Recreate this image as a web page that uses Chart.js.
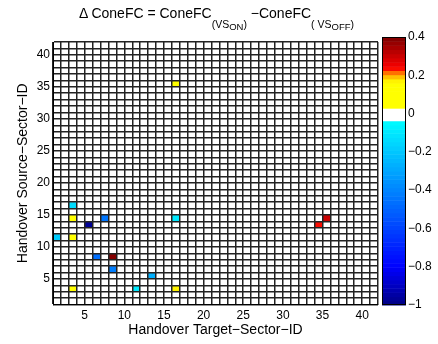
<!DOCTYPE html>
<html>
<head>
<meta charset="utf-8">
<script src="https://cdn.jsdelivr.net/npm/chart.js@4/dist/chart.umd.min.js"></script>
<style>
  body { margin: 0; background: #fff; }
  #wrap { position: relative; width: 438px; height: 344px; font-family: "Liberation Sans", Arial, sans-serif; }
  canvas { position: absolute; top: 0; }
  #title { position: absolute; left: 0; width: 433px; top: 4.5px; text-align: center; font-size: 14px; line-height: 16px; white-space: nowrap; color: #000; }
  .s1 { font-size: 10.5px; position: relative; top: 10px; }
  .s2 { font-size: 9.5px; position: relative; top: 2.5px; }
</style>
</head>
<body>
<div id="wrap">
  <canvas id="heat" width="438" height="344" style="left:0"></canvas>
  <canvas id="bar" width="68" height="344" style="left:370px"></canvas>
  <div id="title">&Delta; ConeFC = ConeFC<span class="s1">(VS<span class="s2">ON</span>)</span> &minus;ConeFC<span class="s1">( VS<span class="s2">OFF</span>)</span></div>
</div>
<script>
// sector ids run 1..42, each cell sits between id and id+1
const sectorMin = 1;
const sectorMax = 42;

// non-zero cells: target sector (x), source sector (y), delta value
const cellX = [3, 3, 7, 16, 5, 1, 3, 6, 8, 8, 13, 3, 11, 16, 16, 35, 34];
const cellY = [16, 14, 14, 14, 13, 11, 11, 8, 8, 6, 5, 3, 3, 3, 35, 14, 13];
const cellValue = [-0.14, 0.1, -0.44, -0.1, -0.97, -0.17, 0.1, -0.47, 0.39, -0.41, -0.26, 0.1, -0.1, 0.18, 0.1, 0.3, 0.23];

const axisTicks = [5, 10, 15, 20, 25, 30, 35, 40];
const colorTicks = [-1, -0.8, -0.6, -0.4, -0.2, 0, 0.2, 0.4];
const colorMin = -1;
const colorMax = 0.4;

const FONT = '"Liberation Sans", Arial, sans-serif';

// jet-like map with the green part replaced by white around zero
const stops = [
  [-1.0, [0, 0, 130]],
  [-0.8, [0, 0, 255]],
  [-0.03, [0, 255, 255]],
  [-0.0299, [255, 255, 255]],
  [0.034, [255, 255, 255]],
  [0.0341, [255, 255, 0]],
  [0.165, [255, 255, 0]],
  [0.19, [255, 200, 0]],
  [0.21, [255, 140, 0]],
  [0.225, [255, 40, 0]],
  [0.24, [250, 0, 0]],
  [0.4, [125, 0, 0]]
];
const LEVELS = 64;

function rawColor(v) {
  if (v <= stops[0][0]) return stops[0][1];
  for (let i = 1; i < stops.length; i++) {
    if (v <= stops[i][0]) {
      const [a, ca] = stops[i - 1], [b, cb] = stops[i];
      const t = (v - a) / (b - a);
      return ca.map((c, k) => Math.round(c + (cb[k] - c) * t));
    }
  }
  return stops[stops.length - 1][1];
}

function levelOf(v) {
  let i = Math.floor((v - colorMin) / (colorMax - colorMin) * LEVELS);
  return Math.max(0, Math.min(LEVELS - 1, i));
}

function levelColor(i) {
  const c = rawColor(colorMin + (i + 0.5) * (colorMax - colorMin) / LEVELS);
  return `rgb(${c[0]},${c[1]},${c[2]})`;
}

function colorFor(v) { return levelColor(levelOf(v)); }

// fill the cells before the grid is drawn so the grid lines stay on top
const cellPlugin = {
  id: 'cells',
  beforeDraw(chart) {
    const { ctx, scales: { x, y } } = chart;
    ctx.save();
    chart.data.datasets[0].data.forEach(p => {
      const x0 = x.getPixelForValue(p.x), x1 = x.getPixelForValue(p.x + 1);
      const y0 = y.getPixelForValue(p.y + 1), y1 = y.getPixelForValue(p.y);
      ctx.fillStyle = colorFor(p.v);
      ctx.fillRect(x0, y0, x1 - x0, y1 - y0);
    });
    ctx.restore();
  }
};

const tickLabel = v => axisTicks.includes(v) ? String(v) : '';

new Chart(document.getElementById('heat'), {
  type: 'scatter',
  data: {
    datasets: [{
      data: cellX.map((cx, i) => ({ x: cx, y: cellY[i], v: cellValue[i] })),
      pointRadius: 0
    }]
  },
  options: {
    responsive: false,
    animation: false,
    events: [],
    layout: { padding: { left: 8, top: 42, right: 60, bottom: 0 } },
    plugins: { legend: { display: false }, tooltip: { enabled: false } },
    scales: {
      x: {
        type: 'linear', min: sectorMin, max: sectorMax,
        afterFit: s => { s.height = 39.4; },
        grid: { color: '#222', lineWidth: 1.5, drawTicks: false },
        border: { color: '#000', width: 1 },
        ticks: { stepSize: 1, autoSkip: false, maxRotation: 0, padding: 4, color: '#000',
                 font: { size: 12, family: FONT }, callback: tickLabel },
        title: { display: true, text: 'Handover Target\u2212Sector\u2212ID', color: '#000',
                 font: { size: 14, family: FONT }, padding: { top: 0, bottom: 5 } }
      },
      y: {
        type: 'linear', min: sectorMin, max: sectorMax,
        afterFit: s => { s.width = 45; },
        grid: { color: '#222', lineWidth: 1.5, drawTicks: false },
        border: { color: '#000', width: 1 },
        ticks: { stepSize: 1, autoSkip: false, padding: 3, color: '#000',
                 font: { size: 12, family: FONT }, callback: tickLabel },
        title: { display: true, text: 'Handover Source\u2212Sector\u2212ID', color: '#000',
                 font: { size: 14, family: FONT }, padding: { top: 7, bottom: 0 } }
      }
    }
  },
  plugins: [cellPlugin]
});

// colour bar: 64 bands placed through its own y scale
const barPlugin = {
  id: 'colorbar',
  beforeDraw(chart) {
    const { ctx, chartArea: a, scales: { y } } = chart;
    ctx.save();
    for (let i = 0; i < LEVELS; i++) {
      const lo = colorMin + i * (colorMax - colorMin) / LEVELS;
      const hi = colorMin + (i + 1) * (colorMax - colorMin) / LEVELS;
      const yTop = y.getPixelForValue(hi), yBot = y.getPixelForValue(lo);
      ctx.fillStyle = levelColor(i);
      ctx.fillRect(a.left, yTop, a.right - a.left, yBot - yTop + 0.5);
    }
    ctx.strokeStyle = '#000';
    ctx.lineWidth = 1;
    ctx.strokeRect(a.left + 0.5, a.top + 0.5, a.right - a.left - 1, a.bottom - a.top - 1);
    ctx.restore();
  }
};

const fmt = v => (v < 0 ? '\u2212' : '') + String(Math.abs(Math.round(v * 10) / 10));

new Chart(document.getElementById('bar'), {
  type: 'scatter',
  data: { datasets: [] },
  options: {
    responsive: false,
    animation: false,
    events: [],
    layout: { padding: { left: 12, top: 37, right: 0, bottom: 39 } },
    plugins: { legend: { display: false }, tooltip: { enabled: false } },
    scales: {
      x: { display: false, min: 0, max: 1 },
      y: {
        position: 'right', min: colorMin, max: colorMax,
        afterFit: s => { s.width = 32; },
        afterBuildTicks: s => { s.ticks = colorTicks.map(v => ({ value: v })); },
        grid: { display: false, drawTicks: false },
        border: { display: false },
        ticks: { padding: 2, color: '#000', font: { size: 12, family: FONT }, callback: fmt }
      }
    }
  },
  plugins: [barPlugin]
});
</script>
</body>
</html>
